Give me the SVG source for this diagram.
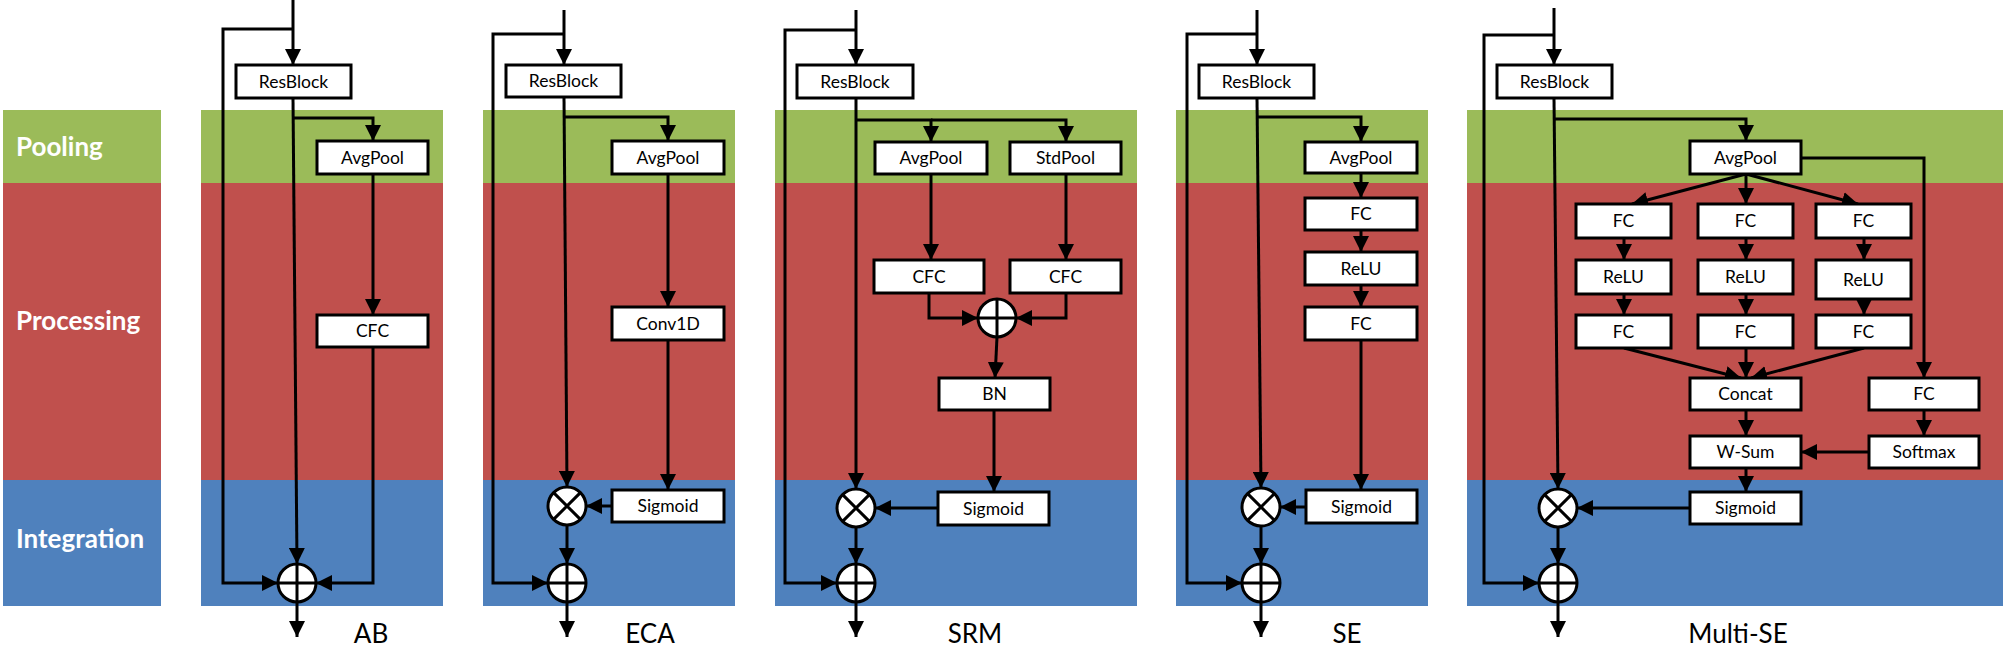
<svg xmlns="http://www.w3.org/2000/svg" width="2006" height="653" viewBox="0 0 2006 653">
<style>
.g{fill:#9BBB59}.r{fill:#C0504D}.b{fill:#4F81BD}
.box{fill:#fff;stroke:#000;stroke-width:3}
.t{font-family:Lato,"Liberation Sans",sans-serif;font-size:17.5px;fill:#000;text-anchor:middle}
.lab{font-family:Lato,"Liberation Sans",sans-serif;font-size:26px;fill:#000;text-anchor:middle}
.side{font-family:Lato,"Liberation Sans",sans-serif;font-size:26px;font-weight:bold;fill:#fff}
.c path,.c line{fill:none;stroke:#000;stroke-width:3}
.c path{marker-end:url(#ah)}
.op ellipse{fill:#fff;stroke:#000;stroke-width:3}
.op path{fill:none;stroke:#000;stroke-width:3}
</style>
<defs>
<marker id="ah" viewBox="0 0 16 16" refX="16" refY="8" markerWidth="16" markerHeight="16" markerUnits="userSpaceOnUse" orient="auto"><path d="M0,0 L16,8 L0,16 z" fill="#000"/></marker>
</defs>

<g id="bands">
<rect class="g" x="3" y="110" width="158" height="73"/><rect class="r" x="3" y="183" width="158" height="297"/><rect class="b" x="3" y="480" width="158" height="126"/>
<rect class="g" x="201" y="110" width="242" height="73"/><rect class="r" x="201" y="183" width="242" height="297"/><rect class="b" x="201" y="480" width="242" height="126"/>
<rect class="g" x="483" y="110" width="252" height="73"/><rect class="r" x="483" y="183" width="252" height="297"/><rect class="b" x="483" y="480" width="252" height="126"/>
<rect class="g" x="775" y="110" width="362" height="73"/><rect class="r" x="775" y="183" width="362" height="297"/><rect class="b" x="775" y="480" width="362" height="126"/>
<rect class="g" x="1176" y="110" width="252" height="73"/><rect class="r" x="1176" y="183" width="252" height="297"/><rect class="b" x="1176" y="480" width="252" height="126"/>
<rect class="g" x="1467" y="110" width="536" height="73"/><rect class="r" x="1467" y="183" width="536" height="297"/><rect class="b" x="1467" y="480" width="536" height="126"/>
<text class="side" x="16" y="156">Pooling</text>
<text class="side" x="16" y="330">Processing</text>
<text class="side" x="16" y="548">Integration</text>
</g>

<g id="connectors" class="c">
<!-- AB -->
<path d="M293,0 V65"/>
<path d="M293,29 H223 V583 H278"/>
<path d="M293,98 L297,564"/>
<path d="M293,118 H373 V141"/>
<path d="M373,174 V315"/>
<path d="M373,347 V583 H316"/>
<path d="M297,602 V637"/>
<!-- ECA -->
<path d="M564,10 V65"/>
<path d="M564,34 H493 V583 H548"/>
<path d="M564,97 L567,487"/>
<path d="M564,117 H668 V141"/>
<path d="M668,174 V307"/>
<path d="M668,340 V490"/>
<path d="M612,506 H586"/>
<path d="M567,525 V564"/>
<path d="M567,602 V637"/>
<!-- SRM -->
<path d="M856,10 V65"/>
<path d="M856,30 H785 V583 H837"/>
<path d="M856,98 V489"/>
<path d="M856,120 H931 V142"/>
<path d="M931,120 H1066 V142"/>
<path d="M931,174 V260"/>
<path d="M1066,174 V260"/>
<path d="M929,293 V318 H978"/>
<path d="M1066,293 V318 H1016"/>
<path d="M997,337 L995,378"/>
<path d="M994,410 V492"/>
<path d="M938,508 H875"/>
<path d="M856,527 V564"/>
<path d="M856,602 V637"/>
<!-- SE -->
<path d="M1257,10 V65"/>
<path d="M1257,34 H1187 V583 H1242"/>
<path d="M1257,98 L1261,488"/>
<path d="M1257,117 H1361 V142"/>
<path d="M1361,173 V198"/>
<path d="M1361,230 V252"/>
<path d="M1361,285 V307"/>
<path d="M1361,340 V490"/>
<path d="M1306,507 H1280"/>
<path d="M1261,526 V564"/>
<path d="M1261,602 V637"/>
<!-- Multi-SE -->
<path d="M1554,8 V65"/>
<path d="M1554,35 H1484 V583 H1539"/>
<path d="M1554,98 L1558,489"/>
<path d="M1554,119 H1746 V141"/>
<path d="M1746,174 L1632,204"/>
<path d="M1746,174 V204"/>
<path d="M1746,174 L1858,204"/>
<path d="M1624,238 V260"/>
<path d="M1746,238 V260"/>
<path d="M1864,238 V260"/>
<path d="M1624,294 V315"/>
<path d="M1746,294 V315"/>
<path d="M1864,299 V315"/>
<path d="M1624,348 L1741,378"/>
<path d="M1746,348 V378"/>
<path d="M1864,348 L1751,378"/>
<path d="M1801,158 H1924 V378"/>
<path d="M1924,410 V436"/>
<path d="M1746,410 V436"/>
<path d="M1869,452 H1801"/>
<path d="M1746,468 V492"/>
<path d="M1690,508 H1577"/>
<path d="M1558,527 V564"/>
<path d="M1558,602 V637"/>
</g>

<!-- AB nodes -->
<g id="ab-resblock"><rect class="box" x="236" y="65" width="115" height="33"/><text class="t" x="293.5" y="87.5">ResBlock</text></g>
<g id="ab-avgpool"><rect class="box" x="317" y="141" width="111" height="33"/><text class="t" x="372.5" y="163.5">AvgPool</text></g>
<g id="ab-cfc"><rect class="box" x="317" y="315" width="111" height="32"/><text class="t" x="372.5" y="337">CFC</text></g>
<g id="ab-plus" class="op"><ellipse cx="297" cy="583" rx="19" ry="19"/><path d="M278,583 H316 M297,564 V602"/></g>
<g id="ab-label"><text class="lab" x="371" y="643">AB</text></g>

<!-- ECA nodes -->
<g id="eca-resblock"><rect class="box" x="506" y="65" width="115" height="32"/><text class="t" x="563.5" y="87">ResBlock</text></g>
<g id="eca-avgpool"><rect class="box" x="612" y="141" width="112" height="33"/><text class="t" x="668" y="163.5">AvgPool</text></g>
<g id="eca-conv1d"><rect class="box" x="612" y="307" width="112" height="33"/><text class="t" x="668" y="329.5">Conv1D</text></g>
<g id="eca-sigmoid"><rect class="box" x="612" y="490" width="112" height="32"/><text class="t" x="668" y="512">Sigmoid</text></g>
<g id="eca-times" class="op"><ellipse cx="567" cy="506" rx="19" ry="19"/><path d="M553.6,492.6 L580.4,519.4 M580.4,492.6 L553.6,519.4"/></g>
<g id="eca-plus" class="op"><ellipse cx="567" cy="583" rx="19" ry="19"/><path d="M548,583 H586 M567,564 V602"/></g>
<g id="eca-label"><text class="lab" x="650" y="643">ECA</text></g>

<!-- SRM nodes -->
<g id="srm-resblock"><rect class="box" x="797" y="65" width="116" height="33"/><text class="t" x="855" y="87.5">ResBlock</text></g>
<g id="srm-avgpool"><rect class="box" x="875" y="142" width="112" height="32"/><text class="t" x="931" y="164">AvgPool</text></g>
<g id="srm-stdpool"><rect class="box" x="1010" y="142" width="111" height="32"/><text class="t" x="1065.5" y="164">StdPool</text></g>
<g id="srm-cfc1"><rect class="box" x="874" y="260" width="110" height="33"/><text class="t" x="929" y="282.5">CFC</text></g>
<g id="srm-cfc2"><rect class="box" x="1010" y="260" width="111" height="33"/><text class="t" x="1065.5" y="282.5">CFC</text></g>
<g id="srm-plus1" class="op"><ellipse cx="997" cy="318" rx="19" ry="19"/><path d="M978,318 H1016 M997,299 V337"/></g>
<g id="srm-bn"><rect class="box" x="939" y="378" width="111" height="32"/><text class="t" x="994.5" y="400">BN</text></g>
<g id="srm-sigmoid"><rect class="box" x="938" y="492" width="111" height="33"/><text class="t" x="993.5" y="514.5">Sigmoid</text></g>
<g id="srm-times" class="op"><ellipse cx="856" cy="508" rx="19" ry="19"/><path d="M842.6,494.6 L869.4,521.4 M869.4,494.6 L842.6,521.4"/></g>
<g id="srm-plus" class="op"><ellipse cx="856" cy="583" rx="19" ry="19"/><path d="M837,583 H875 M856,564 V602"/></g>
<g id="srm-label"><text class="lab" x="975" y="643">SRM</text></g>

<!-- SE nodes -->
<g id="se-resblock"><rect class="box" x="1199" y="65" width="115" height="33"/><text class="t" x="1256.5" y="87.5">ResBlock</text></g>
<g id="se-avgpool"><rect class="box" x="1305" y="142" width="112" height="31"/><text class="t" x="1361" y="163.5">AvgPool</text></g>
<g id="se-fc1"><rect class="box" x="1305" y="198" width="112" height="32"/><text class="t" x="1361" y="220">FC</text></g>
<g id="se-relu"><rect class="box" x="1305" y="252" width="112" height="33"/><text class="t" x="1361" y="274.5">ReLU</text></g>
<g id="se-fc2"><rect class="box" x="1305" y="307" width="112" height="33"/><text class="t" x="1361" y="329.5">FC</text></g>
<g id="se-sigmoid"><rect class="box" x="1306" y="490" width="111" height="33"/><text class="t" x="1361.5" y="512.5">Sigmoid</text></g>
<g id="se-times" class="op"><ellipse cx="1261" cy="507" rx="19" ry="19"/><path d="M1247.6,493.6 L1274.4,520.4 M1274.4,493.6 L1247.6,520.4"/></g>
<g id="se-plus" class="op"><ellipse cx="1261" cy="583" rx="19" ry="19"/><path d="M1242,583 H1280 M1261,564 V602"/></g>
<g id="se-label"><text class="lab" x="1347" y="643">SE</text></g>

<!-- Multi-SE nodes -->
<g id="mse-resblock"><rect class="box" x="1497" y="65" width="115" height="33"/><text class="t" x="1554.5" y="87.5">ResBlock</text></g>
<g id="mse-avgpool"><rect class="box" x="1690" y="141" width="111" height="33"/><text class="t" x="1745.5" y="163.5">AvgPool</text></g>
<g id="mse-fc-l1"><rect class="box" x="1576" y="204" width="95" height="34"/><text class="t" x="1623.5" y="227">FC</text></g>
<g id="mse-fc-m1"><rect class="box" x="1698" y="204" width="95" height="34"/><text class="t" x="1745.5" y="227">FC</text></g>
<g id="mse-fc-r1"><rect class="box" x="1816" y="204" width="95" height="34"/><text class="t" x="1863.5" y="227">FC</text></g>
<g id="mse-relu-l"><rect class="box" x="1576" y="260" width="95" height="34"/><text class="t" x="1623.5" y="283">ReLU</text></g>
<g id="mse-relu-m"><rect class="box" x="1698" y="260" width="95" height="34"/><text class="t" x="1745.5" y="283">ReLU</text></g>
<g id="mse-relu-r"><rect class="box" x="1816" y="260" width="95" height="39"/><text class="t" x="1863.5" y="285.5">ReLU</text></g>
<g id="mse-fc-l2"><rect class="box" x="1576" y="315" width="95" height="33"/><text class="t" x="1623.5" y="337.5">FC</text></g>
<g id="mse-fc-m2"><rect class="box" x="1698" y="315" width="95" height="33"/><text class="t" x="1745.5" y="337.5">FC</text></g>
<g id="mse-fc-r2"><rect class="box" x="1816" y="315" width="95" height="33"/><text class="t" x="1863.5" y="337.5">FC</text></g>
<g id="mse-concat"><rect class="box" x="1690" y="378" width="111" height="32"/><text class="t" x="1745.5" y="400">Concat</text></g>
<g id="mse-fc4"><rect class="box" x="1869" y="378" width="110" height="32"/><text class="t" x="1924" y="400">FC</text></g>
<g id="mse-wsum"><rect class="box" x="1690" y="436" width="111" height="32"/><text class="t" x="1745.5" y="458">W-Sum</text></g>
<g id="mse-softmax"><rect class="box" x="1869" y="436" width="110" height="32"/><text class="t" x="1924" y="458">Softmax</text></g>
<g id="mse-sigmoid"><rect class="box" x="1690" y="492" width="111" height="32"/><text class="t" x="1745.5" y="514">Sigmoid</text></g>
<g id="mse-times" class="op"><ellipse cx="1558" cy="508" rx="19" ry="19"/><path d="M1544.6,494.6 L1571.4,521.4 M1571.4,494.6 L1544.6,521.4"/></g>
<g id="mse-plus" class="op"><ellipse cx="1558" cy="583" rx="19" ry="19"/><path d="M1539,583 H1577 M1558,564 V602"/></g>
<g id="mse-label"><text class="lab" x="1738" y="643">Multi-SE</text></g>
</svg>
